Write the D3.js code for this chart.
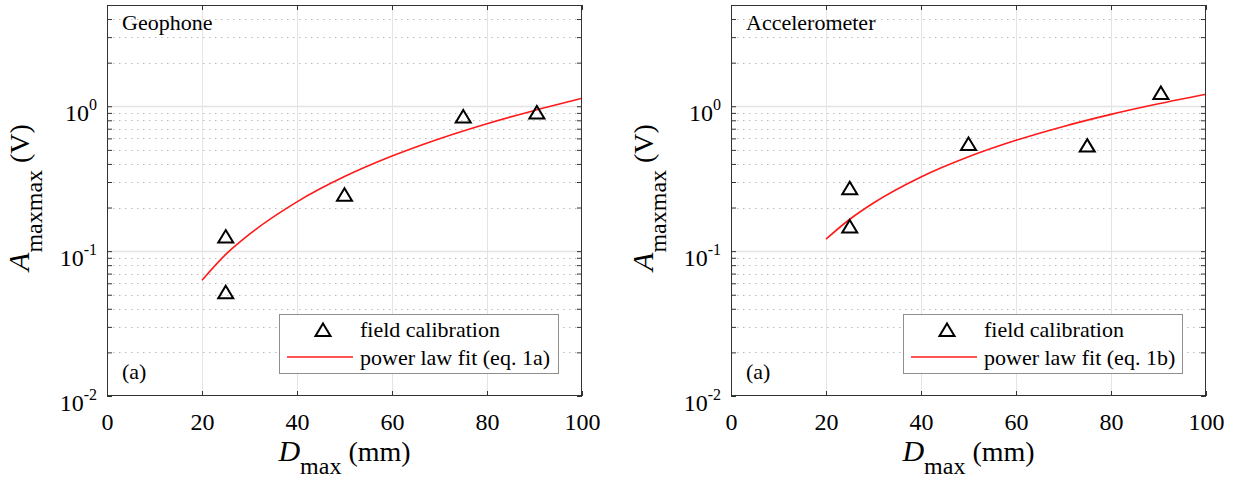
<!DOCTYPE html>
<html>
<head>
<meta charset="utf-8">
<script src="https://cdn.jsdelivr.net/npm/d3@7"></script>
<style>
  body { margin: 0; background: #fff; }
  svg text { font-family: 'Liberation Serif', 'DejaVu Serif', serif; fill: #000; }
</style>
</head>
<body>
<svg id="chart" width="1234" height="481" font-family="Liberation Serif, DejaVu Serif, serif"></svg>
<script>
// tick values
var dmaxTicks = [0, 20, 40, 60, 80, 100];
var ampDecades = [0.01, 0.1, 1];

// field calibration points
var geoD = [25, 25, 50, 75, 90.5];
var geoA = [0.126, 0.052, 0.245, 0.849, 0.905];
var accD = [25, 25, 50, 75, 90.5];
var accA = [0.272, 0.148, 0.549, 0.535, 1.236];

// power law fit curves, sampled from the figure
var fitD = [20, 25, 30, 40, 50, 60, 70, 80, 90, 100];
var geoFit = [0.063, 0.095, 0.131, 0.219, 0.327, 0.453, 0.597, 0.758, 0.936, 1.135];
var accFit = [0.121, 0.166, 0.215, 0.325, 0.448, 0.582, 0.726, 0.879, 1.04, 1.21];

var opt = { top: 5, width: 475, height: 391 };
var serif = 'Liberation Serif, DejaVu Serif, serif';

var panels = [
  { x0: 107, title: 'Geophone', D: geoD, A: geoA, fit: geoFit, fitName: 'power law fit (eq. 1a)' },
  { x0: 731, title: 'Accelerometer', D: accD, A: accA, fit: accFit, fitName: 'power law fit (eq. 1b)' }
];

var svg = d3.select('#chart');

var x = d3.scaleLinear().domain([0, 100]).range([0, opt.width]);
var y = d3.scaleLog().domain([0.01, 5]).range([opt.height, 0]);

var isDecade = function (d) { return Math.abs(Math.log10(d) - Math.round(Math.log10(d))) < 1e-9; };
var minorTicks = y.ticks().filter(function (d) { return !isDecade(d); });
var triangle = 'M0,-6.5L7.5,6L-7.5,6Z';

panels.forEach(function (p) {
  var g = svg.append('g').attr('transform', 'translate(' + p.x0 + ',' + opt.top + ')');

  // minor dotted grid
  g.append('g').selectAll('line').data(minorTicks).join('line')
    .attr('x1', 0).attr('x2', opt.width)
    .attr('y1', function (d) { return Math.round(y(d)) + 0.5; })
    .attr('y2', function (d) { return Math.round(y(d)) + 0.5; })
    .attr('stroke', '#bdbdbd').attr('stroke-dasharray', '1.5,4.5');

  // major grid
  g.append('g').selectAll('line').data(ampDecades.slice(1)).join('line')
    .attr('x1', 0).attr('x2', opt.width)
    .attr('y1', function (d) { return Math.round(y(d)) + 0.5; })
    .attr('y2', function (d) { return Math.round(y(d)) + 0.5; })
    .attr('stroke', '#e4e4e4').attr('stroke-width', 1.5);
  g.append('g').selectAll('line').data(dmaxTicks.slice(1, -1)).join('line')
    .attr('x1', function (d) { return Math.round(x(d)) + 0.5; })
    .attr('x2', function (d) { return Math.round(x(d)) + 0.5; })
    .attr('y1', 0).attr('y2', opt.height)
    .attr('stroke', '#e4e4e4');

  // fit line
  var line = d3.line()
    .x(function (d) { return x(d[0]); })
    .y(function (d) { return y(d[1]); })
    .curve(d3.curveMonotoneX);
  g.append('path').datum(d3.zip(fitD, p.fit))
    .attr('d', line).attr('fill', 'none')
    .attr('stroke', '#ff1a1a').attr('stroke-width', 1.6);

  // calibration points
  g.append('g').selectAll('path').data(d3.zip(p.D, p.A)).join('path')
    .attr('transform', function (d) { return 'translate(' + x(d[0]) + ',' + y(d[1]) + ')'; })
    .attr('d', triangle).attr('fill', 'none')
    .attr('stroke', '#000').attr('stroke-width', 2);

  // legend
  var lg = g.append('g').attr('transform', 'translate(172,309)');
  lg.append('rect').attr('x', 0.5).attr('y', 0.5).attr('width', 279).attr('height', 59)
    .attr('fill', '#fff').attr('stroke', '#8f8f8f');
  lg.append('path').attr('transform', 'translate(44,16)').attr('d', triangle)
    .attr('fill', 'none').attr('stroke', '#000').attr('stroke-width', 2);
  lg.append('text').attr('x', 81).attr('y', 23).attr('font-size', 22).text('field calibration');
  lg.append('line').attr('x1', 8).attr('x2', 74).attr('y1', 43).attr('y2', 43)
    .attr('stroke', '#ff1a1a').attr('stroke-width', 1.6);
  lg.append('text').attr('x', 81).attr('y', 51).attr('font-size', 22).text(p.fitName);

  // axes
  var xb = g.append('g').attr('transform', 'translate(0,' + opt.height + ')')
    .call(d3.axisBottom(x).tickValues(dmaxTicks).tickSizeInner(-5).tickSizeOuter(0).tickPadding(17));
  xb.selectAll('text').attr('font-size', 24).attr('fill', '#000');
  g.append('g')
    .call(d3.axisTop(x).tickValues(dmaxTicks).tickSizeInner(-5).tickSizeOuter(0).tickFormat(''));
  g.append('g')
    .call(d3.axisLeft(y).tickValues(y.ticks()).tickSizeInner(-5).tickSizeOuter(0).tickFormat(''));
  g.append('g').attr('transform', 'translate(' + opt.width + ',0)')
    .call(d3.axisRight(y).tickValues(y.ticks()).tickSizeInner(-5).tickSizeOuter(0).tickFormat(''));
  g.selectAll('.domain').remove();
  g.selectAll('.tick line').attr('stroke', '#333');

  g.append('g').selectAll('text').data(ampDecades).join('text')
    .attr('x', -10).attr('y', function (d) { return y(d) + 15; })
    .attr('text-anchor', 'end').attr('font-size', 24)
    .each(function (d) {
      var t = d3.select(this);
      t.append('tspan').text('10');
      t.append('tspan').attr('font-size', 16).attr('dy', -11).text(String(Math.round(Math.log10(d))));
    });

  // axes box
  g.append('rect').attr('x', 0.5).attr('y', 0.5).attr('width', opt.width - 1).attr('height', opt.height - 1)
    .attr('fill', 'none').attr('stroke', '#333');

  // in-plot labels
  g.append('text').attr('x', 15).attr('y', 25).attr('font-size', 22).text(p.title);
  g.append('text').attr('x', 15).attr('y', 374).attr('font-size', 22).text('(a)');

  // axis titles
  var xl = g.append('text').attr('transform', 'translate(' + (opt.width / 2) + ',456)')
    .attr('text-anchor', 'middle');
  xl.append('tspan').attr('font-size', 30).attr('font-style', 'italic').text('D');
  xl.append('tspan').attr('font-size', 24).attr('dy', 13).text('max');
  xl.append('tspan').attr('font-size', 28).attr('dy', -13).text('\u00a0(mm)');

  var yl = g.append('text').attr('transform', 'translate(-78,' + (opt.height / 2 - 3) + ') rotate(-90)')
    .attr('text-anchor', 'middle');
  yl.append('tspan').attr('font-size', 30).attr('font-style', 'italic').text('A');
  yl.append('tspan').attr('font-size', 24).attr('dy', 13).text('maxmax');
  yl.append('tspan').attr('font-size', 28).attr('dy', -13).text('\u00a0(V)');

  g.selectAll('text').attr('font-family', serif);
});
</script>
</body>
</html>
